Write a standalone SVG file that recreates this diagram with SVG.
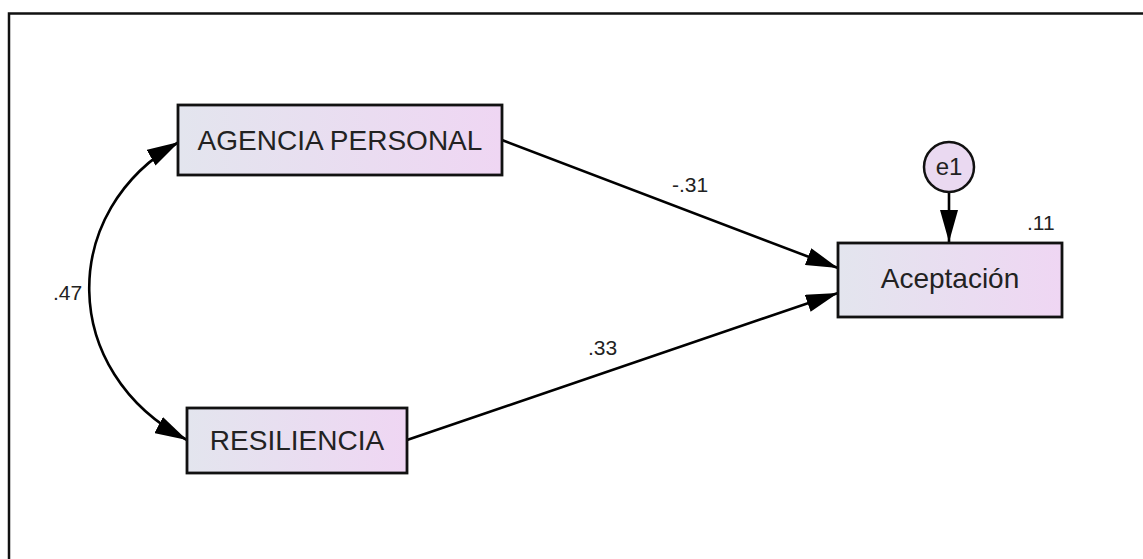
<svg xmlns="http://www.w3.org/2000/svg" width="1143" height="559" viewBox="0 0 1143 559">
  <defs>
    <linearGradient id="boxFill" x1="0" y1="0" x2="1" y2="0">
      <stop offset="0" stop-color="#e3e5ee"/>
      <stop offset="1" stop-color="#efd6f3"/>
    </linearGradient>
    <marker id="head" markerUnits="userSpaceOnUse" viewBox="0 0 32 18" refX="32" refY="9" markerWidth="32" markerHeight="18" orient="auto-start-reverse">
      <path d="M0,0 L32,9 L0,18 Z" fill="#000"/>
    </marker>
    <style>
      .box { fill: url(#boxFill); stroke: #111; stroke-width: 2.8; }
      .lbl { font-family: "Liberation Sans", Arial, sans-serif; font-size: 28px; fill: #222; text-anchor: middle; }
      .coef { font-family: "Liberation Sans", Arial, sans-serif; font-size: 21px; fill: #222; }
      .var { font-family: "Liberation Sans", Arial, sans-serif; font-size: 24px; fill: #222; text-anchor: middle; }
      .edge { fill: none; stroke: #000; stroke-width: 2.6; marker-end: url(#head); }
    </style>
  </defs>
  <rect width="1143" height="559" fill="#fff"/>
  <!-- frame -->
  <path d="M9,559 V13.5 H1143" fill="none" stroke="#111" stroke-width="2.5"/>

  <g id="connectors">
    <path class="edge" d="M502,140 L838,268"/>
    <path class="edge" d="M407,440 L838,293"/>
    <path class="edge" d="M949,192 L949,242"/>
    <path class="edge" style="marker-start:url(#head)" d="M179,142 C58,210 58,372 187,440"/>
    <text class="coef" x="672" y="192">-.31</text>
    <text class="coef" x="588" y="355">.33</text>
    <text class="coef" x="53" y="300">.47</text>
  </g>

  <g id="agencia">
    <rect class="box" x="178" y="105" width="324" height="70"/>
    <text class="lbl" x="340" y="150">AGENCIA PERSONAL</text>
  </g>

  <g id="resiliencia">
    <rect class="box" x="187" y="408" width="220" height="65"/>
    <text class="lbl" x="297" y="450">RESILIENCIA</text>
  </g>

  <g id="aceptacion">
    <rect class="box" x="838" y="243" width="224" height="74"/>
    <text class="lbl" x="950" y="288">Aceptación</text>
    <text class="coef" x="1027" y="230">.11</text>
  </g>

  <g id="e1">
    <circle cx="949" cy="167" r="25" fill="#ead9f1" stroke="#111" stroke-width="2.5"/>
    <text class="var" x="949" y="175">e1</text>
  </g>
</svg>
